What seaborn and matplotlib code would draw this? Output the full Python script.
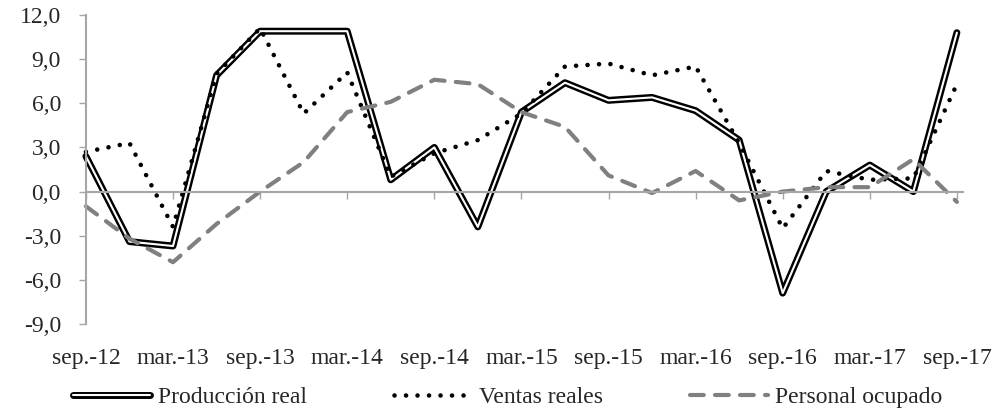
import matplotlib
matplotlib.use('Agg')

import matplotlib.pyplot as plt
import matplotlib.patheffects as pe
import seaborn as sns


# ---------------------------------------------------
# Data (quarterly, % change)
# ---------------------------------------------------

quarters = [
    'sep.-12', 'dic.-12', 'mar.-13', 'jun.-13', 'sep.-13', 'dic.-13',
    'mar.-14', 'jun.-14', 'sep.-14', 'dic.-14', 'mar.-15', 'jun.-15',
    'sep.-15', 'dic.-15', 'mar.-16', 'jun.-16', 'sep.-16', 'dic.-16',
    'mar.-17', 'jun.-17', 'sep.-17'
]

produccion = [2.4, -3.4, -3.7, 7.9, 10.9, 10.9, 10.9, 0.8, 3.0, -2.4, 5.4,
              7.4, 6.2, 6.4, 5.5, 3.5, -6.9, 0.0, 1.8, 0.0, 10.8]

ventas = [2.7, 3.3, -2.4, 8.0, 11.1, 5.3, 8.1, 1.0, 2.6, 3.5, 5.3,
          8.5, 8.7, 7.9, 8.5, 3.3, -2.5, 1.4, 0.8, 0.9, 7.3]

personal = [-1.0, -3.2, -4.8, -2.2, 0.0, 2.0, 5.4, 6.1, 7.6, 7.3, 5.4,
            4.4, 1.1, -0.1, 1.4, -0.6, 0.0, 0.3, 0.3, 2.2, -0.7]

yticks = [-9, -6, -3, 0, 3, 6, 9, 12]

GRAY = '#a6a6a6'


# ---------------------------------------------------
# Figure
# ---------------------------------------------------

sns.set_theme(style='white')
plt.rcParams['font.family'] = ['Liberation Serif', 'DejaVu Serif']

fig = plt.figure(figsize=(9.99, 4.17), dpi=100)
ax = fig.add_axes([0.086, 0.223, 0.8784, 0.741])

x = list(range(len(quarters)))

sns.lineplot(
    x=x, y=produccion, ax=ax, color='white', linewidth=1.5,
    label='Producción real', legend=False, clip_on=False,
    path_effects=[pe.Stroke(linewidth=5.0, foreground='black'), pe.Normal()]
)

sns.lineplot(
    x=x, y=ventas, ax=ax, color='black', linewidth=3.3,
    linestyle=(0, (0.01, 2.5)), dash_capstyle='round',
    label='Ventas reales', legend=False, clip_on=False
)

sns.lineplot(
    x=x, y=personal, ax=ax, color='#808080', linewidth=3.0,
    linestyle=(0, (3.3, 2.7)), dash_capstyle='round',
    label='Personal ocupado', legend=False, clip_on=False
)

# ---------------------------------------------------
# Axes
# ---------------------------------------------------

ax.set_xlim(0, 20.15)
ax.set_ylim(-9, 12)

ax.set_yticks(yticks)
ax.set_yticklabels([f'{v:.1f}'.replace('.', ',') for v in yticks])
ax.tick_params(axis='y', direction='out', length=5, width=1,
               color=GRAY, pad=13, labelsize=17, left=True)

# category axis crosses at zero, labels stay at the bottom
ax.spines['bottom'].set_position(('data', 0))
ax.spines['bottom'].set_color(GRAY)
ax.spines['bottom'].set_linewidth(1.5)
ax.spines['left'].set_color(GRAY)
ax.spines['left'].set_linewidth(1.5)
ax.spines['top'].set_visible(False)
ax.spines['right'].set_visible(False)

ax.set_xticks(x[::2])
ax.tick_params(axis='x', direction='out', length=5, width=1,
               color=GRAY, labelbottom=False, bottom=True)

sec = ax.secondary_xaxis('bottom')
sec.set_xticks(x[::2], labels=quarters[::2])
sec.tick_params(length=0, pad=17, labelsize=17)
sec.spines['bottom'].set_visible(False)

ax.set_xlabel('')
ax.set_ylabel('')

handles, labels = ax.get_legend_handles_labels()
fig.legend(
    handles, labels, loc='lower center', ncol=3, frameon=False,
    bbox_to_anchor=(0.508, -0.03), fontsize=17, handlelength=3.3,
    handletextpad=0.3, columnspacing=3.7
)

plt.savefig('out.png', dpi=100)
plt.close()
